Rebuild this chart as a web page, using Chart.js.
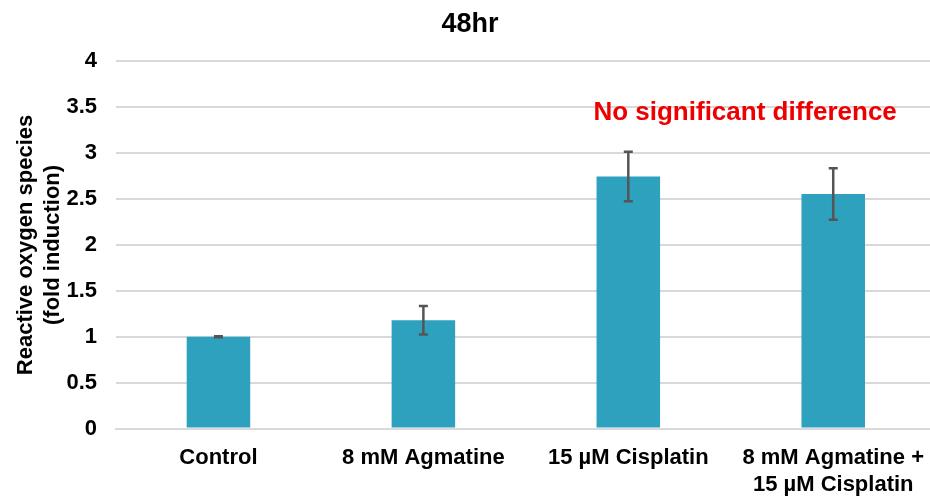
<!DOCTYPE html>
<html>
<head>
<meta charset="utf-8">
<script src="https://cdn.jsdelivr.net/npm/chart.js@4"></script>
<style>
  html, body { margin: 0; padding: 0; background: #fff; overflow: hidden; }
  #wrap { width: 930px; height: 498px; overflow: hidden; }
</style>
</head>
<body>
<div id="wrap"><canvas id="rosChart" width="940" height="498"></canvas></div>
<script>
// Data
const categories = ["Control", "8 mM Agmatine", "15 µM Cisplatin", ["8 mM Agmatine +", "15 µM Cisplatin"]];
const rosValues = [1.0, 1.18, 2.745, 2.555];
const rosErrors = [0.005, 0.155, 0.27, 0.28];
const yTicks = [0, 0.5, 1, 1.5, 2, 2.5, 3, 3.5, 4];
const chartTitle = "48hr";
const yTitle = ["Reactive oxygen species", "(fold induction)"];
const noteText = "No significant difference";

const FONT = "'Liberation Sans', Arial, sans-serif";

// Error bars drawn on top of the bars
const errorBarPlugin = {
  id: "errorBars",
  afterDatasetsDraw(chart) {
    const { ctx } = chart;
    const y = chart.scales.y;
    const meta = chart.getDatasetMeta(0);
    ctx.save();
    ctx.strokeStyle = "#555555";
    ctx.lineWidth = 2.5;
    meta.data.forEach((bar, i) => {
      const top = y.getPixelForValue(rosValues[i] + rosErrors[i]);
      const bottom = y.getPixelForValue(rosValues[i] - rosErrors[i]);
      ctx.beginPath();
      ctx.moveTo(bar.x, top);
      ctx.lineTo(bar.x, bottom);
      ctx.moveTo(bar.x - 4.5, top);
      ctx.lineTo(bar.x + 4.5, top);
      ctx.moveTo(bar.x - 4.5, bottom);
      ctx.lineTo(bar.x + 4.5, bottom);
      ctx.stroke();
    });
    ctx.restore();
  },
};

// Red annotation text
const notePlugin = {
  id: "note",
  afterDraw(chart) {
    const { ctx } = chart;
    const px = chart.scales.x.getPixelForValue(2.57);
    const py = chart.scales.y.getPixelForValue(3.44);
    ctx.save();
    ctx.font = "bold 26px " + FONT;
    ctx.fillStyle = "#ee0000";
    ctx.textAlign = "center";
    ctx.textBaseline = "middle";
    ctx.fillText(noteText, px, py);
    ctx.restore();
  },
};

const ctx = document.getElementById("rosChart").getContext("2d");
new Chart(ctx, {
  type: "bar",
  data: {
    labels: categories,
    datasets: [
      {
        data: rosValues,
        backgroundColor: "#2da1bd",
        borderWidth: 0,
        categoryPercentage: 1.0,
        barPercentage: 0.31,
      },
    ],
  },
  options: {
    responsive: false,
    animation: false,
    layout: { padding: { top: 0, right: 0, bottom: 0, left: 0 } },
    plugins: {
      legend: { display: false },
      tooltip: { enabled: false },
      title: {
        display: true,
        text: chartTitle,
        color: "#000",
        font: { family: FONT, size: 27, weight: "bold" },
        padding: { top: 8, bottom: 21 },
      },
    },
    scales: {
      x: {
        grid: { display: false, drawTicks: false },
        border: { color: "#d9d9d9", width: 2 },
        ticks: {
          color: "#000",
          padding: 16,
          maxRotation: 0,
          autoSkip: false,
          font: { family: FONT, size: 22, weight: "bold", lineHeight: 1.22 },
        },
        afterFit(scale) { scale.height = 69.5; },
      },
      y: {
        min: 0,
        max: 4,
        afterBuildTicks(scale) { scale.ticks = yTicks.map((v) => ({ value: v })); },
        grid: { color: "#d9d9d9", lineWidth: 2, drawTicks: false },
        border: { display: false },
        ticks: {
          color: "#000",
          padding: 19,
          font: { family: FONT, size: 22, weight: "bold" },
          callback: (v) => String(v),
        },
        title: {
          display: true,
          text: yTitle,
          color: "#000",
          padding: { top: 13, bottom: 4 },
          font: { family: FONT, size: 22, weight: "bold", lineHeight: 1.22 },
        },
        afterFit(scale) { scale.width = 116; },
      },
    },
  },
  plugins: [errorBarPlugin, notePlugin],
});
</script>
</body>
</html>
